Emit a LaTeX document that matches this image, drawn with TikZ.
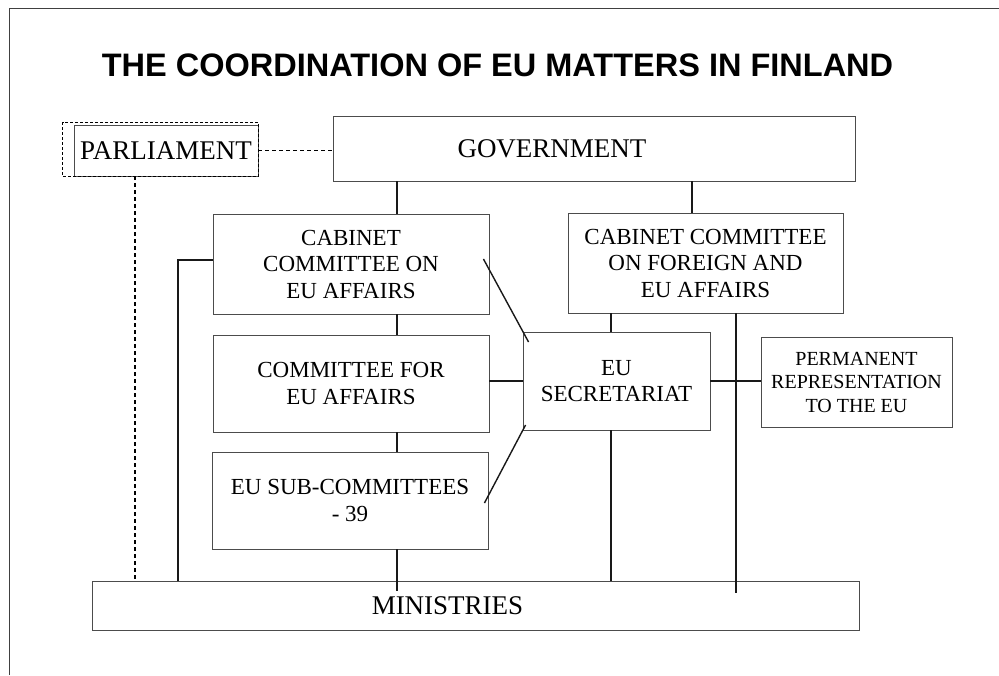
\documentclass[tikz,border=0pt]{standalone}
\usepackage{fontspec}
\setmainfont{Liberation Serif}
\newfontfamily\headfont{Liberation Sans}
\tikzset{
  box/.style={draw=black!70, line width=0.9pt, inner sep=0pt, align=center,
    font=\fontsize{23}{26.5}\selectfont},
  bigtext/.style={font=\fontsize{27}{30}\selectfont},
  link/.style={line width=1.4pt, black!90},
  dashlink/.style={line width=1.2pt, dash pattern=on 4pt off 3pt}
}

\begin{document}
\begin{tikzpicture}[x=1pt, y=-1pt]
\useasboundingbox (0,0) rectangle (999,675);

% Draw frame.
\draw[line width=1pt, black!75] (9,675) -- (9,8.5) -- (999,8.5);

% Draw title.
\node (title) at (497.5,65) {\headfont\bfseries\fontsize{32.5}{36}\selectfont
  THE COORDINATION OF EU MATTERS IN FINLAND};

% Draw boxes.
\node[box, bigtext, minimum width=184pt, minimum height=51pt] (par) at (166,150.5) {PARLIAMENT};
\node[box, bigtext, minimum width=522pt, minimum height=65pt] (gov) at (594,148.5) {GOVERNMENT\hspace*{84pt}};
\node[box, minimum width=276pt, minimum height=100pt] (cab) at (351,264) {CABINET\\COMMITTEE ON\\EU AFFAIRS};
\node[box, minimum width=276pt, minimum height=97pt] (com) at (351,383.5) {COMMITTEE FOR\\EU AFFAIRS};
\node[box, minimum width=276pt, minimum height=97pt] (sub) at (350,500.5) {EU SUB-COMMITTEES\\- 39};
\node[box, minimum width=275pt, minimum height=100pt] (ccf) at (705.5,263) {CABINET COMMITTEE\\ON FOREIGN AND\\EU AFFAIRS};
\node[box, minimum width=187pt, minimum height=98pt] (sec) at (616.5,381) {EU\\SECRETARIAT};
\node[box, minimum width=191pt, minimum height=90pt, font=\fontsize{20}{23.5}\selectfont] (perm) at (856.5,382) {PERMANENT\\REPRESENTATION\\TO THE EU};
\node[box, bigtext, minimum width=767pt, minimum height=49pt] (min) at (475.5,605.5) {MINISTRIES\hspace*{56pt}};
\draw[line width=0.8pt, dash pattern=on 3pt off 2pt] ([shift={(-11,-2.5)}]par.north west) rectangle (par.south east);

% Columns of the vertical lines.
\coordinate (colA) at (135,0);
\coordinate (colB) at (178,0);
\coordinate (colC) at (397,0);
\coordinate (colD) at (611,0);
\coordinate (colE) at (692,0);
\coordinate (colF) at (736,0);

% Draw links.
\foreach \a/\b in {gov/cab, cab/com, com/sub}
\draw[link] (\a.south -| colC) -- (\b.north -| colC);
\draw[link] (sub.south -| colC) -- ++(0,42);
\draw[link] (gov.south -| colE) -- (ccf.north -| colE);
\draw[link] (ccf.south -| colD) -- (sec.north -| colD);
\draw[link] (sec.south -| colD) -- (min.north -| colD);
\draw[link] (ccf.south -| colF) -- ++(0,280);
\draw[link] ([yshift=4pt]cab.west) -| (min.north -| colB);
\draw[link] (sec.west -| com.east) -- (sec.west);
\draw[link] (sec.east) -- (sec.east -| perm.west);
\draw[link] ([shift={(-6,-5)}]cab.east) -- ([shift={(6,-39)}]sec.west);
\draw[link] ([shift={(3,44)}]sec.west) -- ([shift={(-4,2.5)}]sub.east);

% Draw dashed links of the parliament.
\draw[dashlink] (par.east) -- (gov.west |- par.east);
\draw[dashlink] (par.south -| colA) -- (min.north -| colA);
\end{tikzpicture}
\end{document}
